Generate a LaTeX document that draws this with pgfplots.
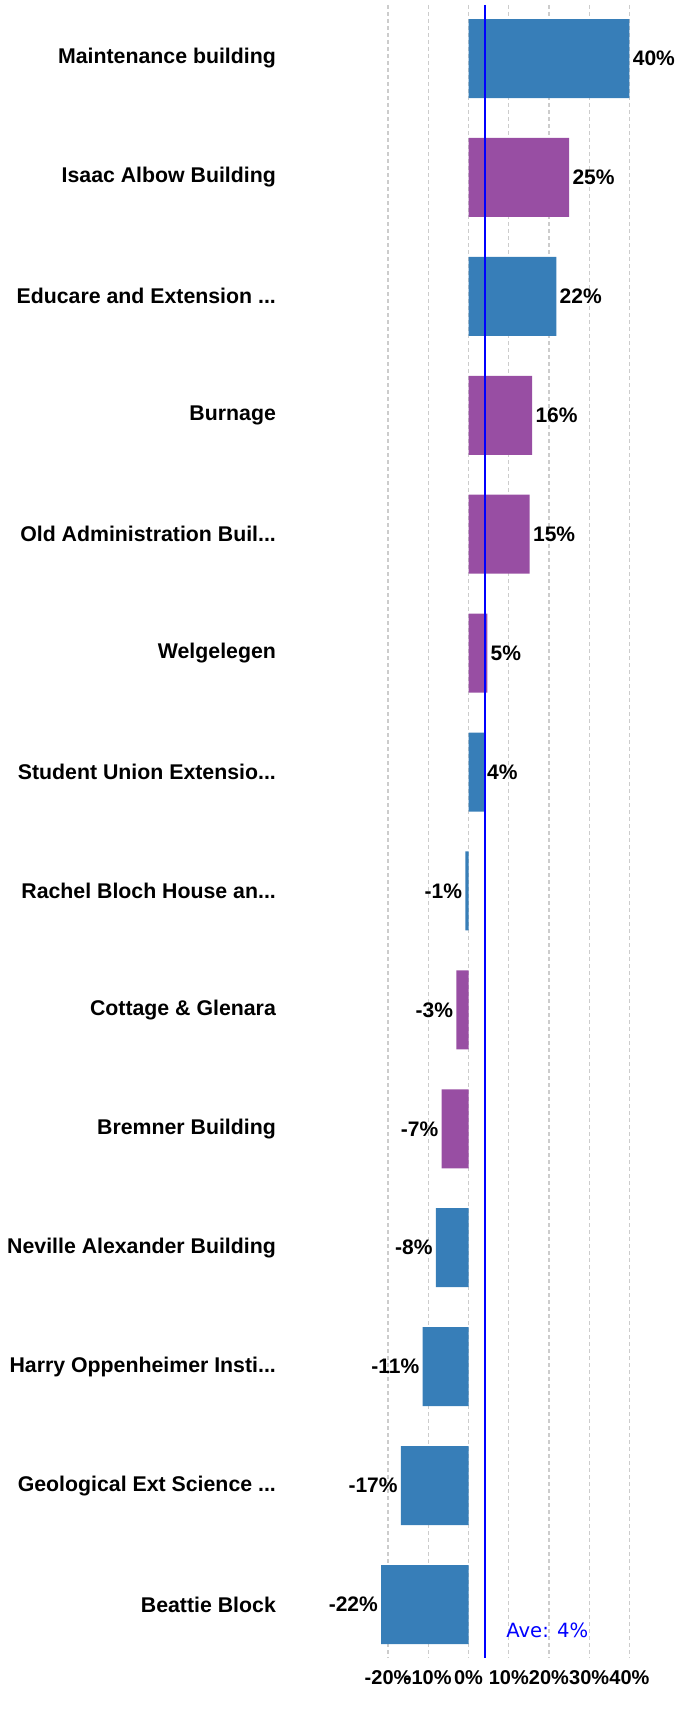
\documentclass[border=0pt]{standalone}
\usepackage{fontspec}
\setmainfont{Liberation Sans}
\newfontfamily\avefont{DejaVu Sans}
\usepackage{pgfplots}
\usepackage{pgfplotstable}
\pgfplotsset{compat=1.18}
\definecolor{setblue}{HTML}{377EB8}
\definecolor{setpurple}{HTML}{984EA3}
\definecolor{gridgray}{HTML}{CCCCCC}
\newcommand\el{.{}.{}.}

% position (0 = top), bar value, printed label
\pgfplotstableread{
pos v lab
0 40 40
2 21.8 22
6 3.8 4
7 -0.8 -1
10 -8.1 -8
11 -11.4 -11
12 -16.8 -17
13 -21.7 -22
}\bluedata

\pgfplotstableread{
pos v lab
1 25 25
3 15.8 16
4 15.2 15
5 4.65 5
8 -3 -3
9 -6.7 -7
}\purpledata

\pgfplotsset{
  posbar/.style={xbar, bar shift=0pt, draw=none, point meta=explicit symbolic,
    restrict x to domain=0:100,
    every node near coord/.append style={anchor=west}},
  negbar/.style={xbar, bar shift=0pt, draw=none, point meta=explicit symbolic,
    restrict x to domain=-100:0,
    every node near coord/.append style={anchor=east}},
}

\begin{document}
\begin{tikzpicture}
\begin{axis}[
    scale only axis,
    width=173pt, height=826.5pt,
    xmin=-46, xmax=40,
    ymin=-0.45, ymax=13.45,
    y dir=reverse,
    axis line style={draw=none},
    major tick length=0pt,
    xtick={-20,-10,0,10,20,30,40},
    xticklabel={\pgfmathprintnumber{\tick}\%},
    /pgf/number format/assume math mode=true,
    xticklabel style={font=\fontsize{10}{12}\selectfont\bfseries, inner sep=1pt, yshift=-5pt},
    ytick={0,1,2,3,4,5,6,7,8,9,10,11,12,13},
    yticklabels={Maintenance building, Isaac Albow Building, Educare and Extension \el,
      Burnage, Old Administration Buil\el, Welgelegen, Student Union Extensio\el,
      Rachel Bloch House an\el, Cottage \& Glenara, Bremner Building,
      Neville Alexander Building, Harry Oppenheimer Insti\el, Geological Ext Science \el,
      Beattie Block},
    yticklabel style={font=\fontsize{10.65}{12}\selectfont\bfseries, inner sep=3.6pt},
    xmajorgrids,
    grid style={gridgray, line width=0.65pt, dash pattern=on 2pt off 1.5pt},
    bar width=39.5pt,
    clip=false,
    nodes near coords={\pgfplotspointmeta\%},
    every node near coord/.append style={font=\fontsize{10.5}{12}\selectfont\bfseries, inner sep=1.5pt},
]
\addplot[posbar, fill=setblue] table[x=v, y=pos, meta=lab] {\bluedata};
\addplot[negbar, fill=setblue] table[x=v, y=pos, meta=lab] {\bluedata};
\addplot[posbar, fill=setpurple] table[x=v, y=pos, meta=lab] {\purpledata};
\addplot[negbar, fill=setpurple] table[x=v, y=pos, meta=lab] {\purpledata};
\addplot[blue, line width=1pt, nodes near coords={}, no marks] coordinates {(4.15,-0.45) (4.15,13.45)};
\node[anchor=west, inner sep=0pt, text=blue, font=\avefont\fontsize{9.8}{12}\selectfont]
  at (axis cs:9.3,13.22) {Ave: 4\%};
\end{axis}
\path ([shift={(-141.5pt,-27.5pt)}]current axis.south west) rectangle ([shift={(24pt,2.5pt)}]current axis.north east);
\end{tikzpicture}
\end{document}
